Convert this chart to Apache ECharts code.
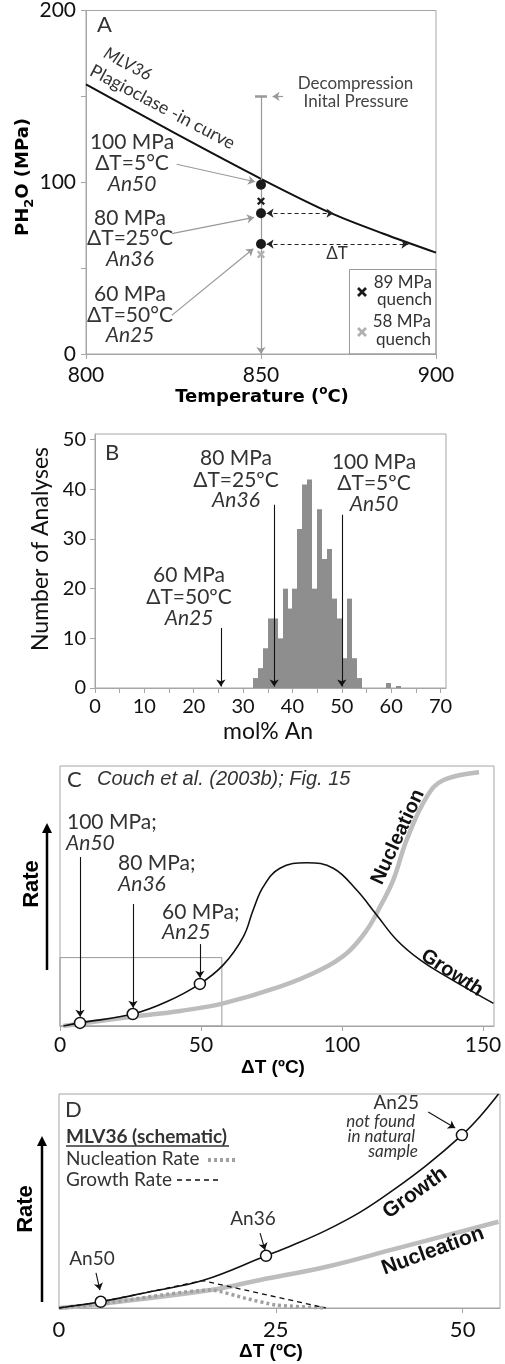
<!DOCTYPE html>
<html><head><meta charset="utf-8">
<script src="https://cdn.jsdelivr.net/npm/echarts@6/dist/echarts.min.js"></script>
<style>html,body{margin:0;padding:0;background:#fff}#c{width:505px;height:1364px}</style>
</head><body><div id="c"></div>
<script>
// ---- Panel A data ----
const aCurveT = [800, 825, 850, 870, 885, 900];
const aCurveP = [157, 129, 102, 82, 70, 59];
const aRunT = [850, 850, 850];
const aRunP = [98.5, 82, 64];
const aQuench89 = [[850, 89]];
const aQuench58 = [[850, 58]];
const aXTicks = [800, 850, 900];
const aYLabels = [0, 100, 200];
// ---- Panel B data ----
const bBinStart = [32,33,34,35,36,37,38,39,40,41,42,43,44,45,46,47,48,49,50,51,52,53,59,61];
const bCounts   = [2, 4, 8, 14,14,10,20,16,20,32,41,42,20,36,26,28,18,14,6, 18,6, 2, 1, 0.4];
const bArrowsAn = [25.5, 36.3, 50];
const bArrowTop = [12.1, 36.9, 34.9];
const bXLabels = [0,10,20,30,40,50,60,70];
const bXTicks = [0,5,10,15,20,25,30,35,40,45,50,55,60,65,70];
const bYLabels = [0,10,20,30,40,50];
// ---- Panel C data ----
const cGrowthX = [1.2, 7.1, 25.8, 37.8, 49.6, 57.9, 65, 68.5, 72.1, 78, 87.5, 96.9, 105.2, 112.3, 119.4, 127.7, 137.1, 153.7];
const cGrowthY = [0, 1.2, 4.6, 9.3, 16.2, 23.5, 34.3, 44.6, 53.6, 60.7, 62.8, 60.7, 52.3, 42.7, 33.1, 25.4, 19, 8.7];
const cNuclX = [1.1, 26, 42.6, 57.9, 78, 92.2, 101.7, 108.8, 113.5, 118.2, 122.9, 130.1, 136, 148.6];
const cNuclY = [0, 3.6, 5.8, 8.7, 15.1, 21.5, 28, 36.9, 45.9, 56.2, 71.5, 88.2, 94.6, 97.6];
const cRuns = [[7.1, 1.2], [25.8, 4.6], [49.6, 16.2]];
const cXLabels = [0, 50, 100, 150];
// ---- Panel D data ----
const dGrowthX = [-4, 1.58, 8.17, 15.2, 23.7, 27.3, 31.8, 36.3, 40.7, 45.2, 49.9, 52.3, 54.8];
const dGrowthY = [0, 2.9, 7.6, 12.8, 24.4, 29.4, 36.4, 44.8, 55.1, 66.8, 80.8, 89.4, 100];
const dNuclX = [-4, 1.5, 16.3, 22.9, 31.8, 40.7, 54.8];
const dNuclY = [0, 1.9, 8.4, 13.1, 19.3, 27.4, 40.3];
const dGrRateX = [-4, 1.58, 8.17, 15.2, 31.7];
const dGrRateY = [0, 2.9, 7.6, 12.8, 0];
const dNuRateX = [-4, 1.5, 16.3, 21, 25, 31.7];
const dNuRateY = [0, 1.9, 8.4, 4.5, 1.4, 0];
const dRuns = [[1.58, 2.9], [23.7, 24.4], [49.9, 80.8]];
const dXLabels = [-4, 25, 50];

const zip = (a, b) => a.map((v, i) => [v, b[i]]);
const FR = '#a6a6a6';
const TXT = '#333';
const XPATH = 'path://M0,2L2,0L5,3L8,0L10,2L7,5L10,8L8,10L5,7L2,10L0,8L3,5Z';

function txt(x, y, text, o) {
  o = o || {};
  const font = (o.style || 'normal') + ' ' + (o.weight || 'normal') + ' ' + (o.size || 21) + 'px ' + (o.family || 'Lato');
  const st = { text: text, font: font, fill: o.color || TXT,
      align: o.align || 'center', verticalAlign: o.va || 'middle',
      textAlign: o.align || 'center', textVerticalAlign: o.va || 'middle' };
  if (o.rich) st.rich = o.rich;
  return { type: 'text', x: x, y: y, rotation: o.rot || 0, z: 100, style: st };
}
function gline(x1, y1, x2, y2, o) {
  o = o || {};
  return { type: 'line', z: 100, shape: { x1: x1, y1: y1, x2: x2, y2: y2 },
    style: { stroke: o.color || '#000', lineWidth: o.w || 1, lineDash: o.dash || null } };
}
function upArrow(x, y1, y2) {
  return [gline(x, y1, x, y2 + 6, { w: 2.5 }),
    { type: 'polygon', z: 100, shape: { points: [[x - 5, y2 + 10], [x + 5, y2 + 10], [x, y2]] }, style: { fill: '#000' } }];
}
function xMark(cx, cy, color) {
  return [gline(cx - 4, cy - 4, cx + 4, cy + 4, { w: 2.6, color: color }),
          gline(cx - 4, cy + 4, cx + 4, cy - 4, { w: 2.6, color: color })];
}
function seg(p1, p2, s1, s2) {
  return [{ coord: p1, symbol: s1 || 'none' }, { coord: p2, symbol: s2 || 'arrow' }];
}

const axisBase = (gi) => ({
  gridIndex: gi, type: 'value', splitLine: { show: false },
  axisLine: { show: true, lineStyle: { color: FR, width: 1 } },
  axisTick: { show: true, length: 5, lineStyle: { color: FR } },
  axisLabel: { fontFamily: 'Lato', fontSize: 21, color: '#111' }
});

const option = {
  animation: false,
  backgroundColor: '#fff',
  grid: [
    { left: 86, top: 7, width: 350, height: 347, show: true, borderColor: FR, borderWidth: 1 },
    { left: 95, top: 434, width: 351, height: 254, show: true, borderColor: FR, borderWidth: 1 },
    { left: 60, top: 766, width: 434, height: 260, show: true, borderColor: FR, borderWidth: 1 },
    { left: 59, top: 1094, width: 441, height: 214, show: true, borderColor: FR, borderWidth: 1 }
  ],
  xAxis: [
    Object.assign(axisBase(0), { min: 800, max: 900, interval: 50,
      axisLabel: { fontFamily: 'Lato', fontSize: 21, color: '#111', margin: 11 } }),
    Object.assign(axisBase(1), { min: 0, max: 71.1,
      axisTick: { show: true, length: 5, lineStyle: { color: FR }, customValues: bXTicks },
      axisLabel: { fontFamily: 'Lato', fontSize: 20, color: '#111', margin: 9, customValues: bXLabels } }),
    Object.assign(axisBase(2), { min: 0, max: 153.9,
      axisTick: { show: true, length: 5, lineStyle: { color: FR }, customValues: cXLabels },
      axisLabel: { fontFamily: 'Lato', fontSize: 21, color: '#111', margin: 9, customValues: cXLabels } }),
    Object.assign(axisBase(3), { min: -4, max: 55,
      axisTick: { show: true, length: 5, lineStyle: { color: FR }, customValues: [25, 50] },
      axisLabel: { fontFamily: 'Lato', fontSize: 22, color: '#111', margin: 11, customValues: dXLabels,
        formatter: function (v) { return v < 0 ? '0' : String(v); } } })
  ],
  yAxis: [
    Object.assign(axisBase(0), { min: 0, max: 200, interval: 50,
      axisLabel: { fontFamily: 'Lato', fontSize: 21, color: '#111', margin: 10,
        formatter: function (v) { return aYLabels.indexOf(v) >= 0 ? String(v) : ''; } } }),
    Object.assign(axisBase(1), { min: 0, max: 51.15,
      axisTick: { show: true, length: 5, lineStyle: { color: FR }, customValues: bYLabels },
      axisLabel: { fontFamily: 'Lato', fontSize: 20, color: '#111', margin: 9, customValues: bYLabels } }),
    Object.assign(axisBase(2), { min: 0, max: 100, show: false }),
    Object.assign(axisBase(3), { min: 0, max: 100, show: false })
  ],
  series: [
    // ---------- A ----------
    { type: 'line', xAxisIndex: 0, yAxisIndex: 0, data: zip(aCurveT, aCurveP), smooth: 0.3,
      showSymbol: false, lineStyle: { color: '#111', width: 2 } },
    { type: 'line', xAxisIndex: 0, yAxisIndex: 0, data: [],
      markLine: { silent: true, symbolSize: 7, label: { show: false },
        lineStyle: { color: '#999', width: 1.2, type: 'solid' },
        data: [
          seg([850, 150], [850, 0]),
          [{ coord: [848.3, 150], symbol: 'none', lineStyle: { width: 2.5, color: '#999', type: 'solid' } },
           { coord: [851.7, 150], symbol: 'none', lineStyle: { width: 2.5, color: '#999', type: 'solid' } }],
          seg([856.3, 150], [853.3, 150]),
          seg([825.9, 110.5], [848.3, 100.3]),
          seg([824.5, 70.1], [848, 79.5]),
          seg([824.5, 22.5], [847.8, 61.3])
        ] } },
    { type: 'line', xAxisIndex: 0, yAxisIndex: 0, data: [],
      markLine: { silent: true, symbolSize: 7, label: { show: false },
        lineStyle: { color: '#222', width: 1.2, type: [4, 3] },
        data: [ seg([851.6, 82], [870.7, 82], 'arrow', 'arrow'),
                seg([851.6, 64], [892.1, 64], 'arrow', 'arrow') ] } },
    { type: 'scatter', xAxisIndex: 0, yAxisIndex: 0, data: zip(aRunT, aRunP), symbol: 'circle',
      symbolSize: 10, itemStyle: { color: '#1a1a1a', opacity: 1 }, z: 5 },
    { type: 'scatter', xAxisIndex: 0, yAxisIndex: 0, data: aQuench89, symbol: XPATH,
      symbolSize: 8, itemStyle: { color: '#1a1a1a', opacity: 1 }, z: 5 },
    { type: 'scatter', xAxisIndex: 0, yAxisIndex: 0, data: aQuench58, symbol: XPATH,
      symbolSize: 8, itemStyle: { color: '#b0b0b0', opacity: 1 }, z: 5 },
    // ---------- B ----------
    { type: 'custom', xAxisIndex: 1, yAxisIndex: 1, data: zip(bBinStart, bCounts),
      encode: { x: 0, y: 1 },
      renderItem: function (params, api) {
        const x0 = api.value(0), h = api.value(1);
        const p0 = api.coord([x0, 0]), p1 = api.coord([x0 + 1, h]);
        const xl = Math.round(p0[0]), xr = Math.round(p1[0]);
        return { type: 'rect', shape: { x: xl, y: p1[1], width: xr - xl, height: p0[1] - p1[1] },
          style: { fill: '#8e8e8e', opacity: 1 } };
      } },
    { type: 'line', xAxisIndex: 1, yAxisIndex: 1, data: [],
      markLine: { silent: true, symbolSize: 7, label: { show: false },
        lineStyle: { color: '#111', width: 1.1, type: 'solid' },
        data: bArrowsAn.map((a, i) => seg([a, bArrowTop[i]], [a, 0.3])) } },
    // ---------- C ----------
    { type: 'line', xAxisIndex: 2, yAxisIndex: 2, data: [],
      markArea: { silent: true, itemStyle: { color: 'rgba(0,0,0,0)', borderColor: '#999', borderWidth: 1 },
        data: [[{ coord: [0, 0] }, { coord: [57.4, 26.3] }]] } },
    { type: 'line', xAxisIndex: 2, yAxisIndex: 2, data: zip(cNuclX, cNuclY), smooth: 0.4,
      showSymbol: false, lineStyle: { color: '#bdbdbd', width: 4.5 } },
    { type: 'line', xAxisIndex: 2, yAxisIndex: 2, data: zip(cGrowthX, cGrowthY), smooth: 0.4,
      showSymbol: false, lineStyle: { color: '#111', width: 1.6 } },
    { type: 'line', xAxisIndex: 2, yAxisIndex: 2, data: [],
      markLine: { silent: true, symbolSize: 7, label: { show: false },
        lineStyle: { color: '#111', width: 1.1, type: 'solid' },
        data: [ seg([7.1, 65], [7.1, 3.6]), seg([25.9, 46.9], [25.9, 7]), seg([49.6, 31.5], [49.6, 18.6]) ] } },
    { type: 'scatter', xAxisIndex: 2, yAxisIndex: 2, data: cRuns, symbol: 'circle', symbolSize: 11,
      itemStyle: { color: '#fff', borderColor: '#111', borderWidth: 1.5, opacity: 1 }, z: 5 },
    // ---------- D ----------
    { type: 'line', xAxisIndex: 3, yAxisIndex: 3, data: zip(dNuclX, dNuclY), smooth: 0.4,
      showSymbol: false, lineStyle: { color: '#bdbdbd', width: 4.5 } },
    { type: 'line', xAxisIndex: 3, yAxisIndex: 3, data: zip(dNuRateX, dNuRateY), smooth: 0.2,
      showSymbol: false, lineStyle: { color: '#a0a0a0', width: 3.5, type: [3, 3] } },
    { type: 'line', xAxisIndex: 3, yAxisIndex: 3, data: zip(dGrRateX, dGrRateY),
      showSymbol: false, lineStyle: { color: '#111', width: 1.3, type: [5, 4] } },
    { type: 'line', xAxisIndex: 3, yAxisIndex: 3, data: zip(dGrowthX, dGrowthY), smooth: 0.4,
      showSymbol: false, lineStyle: { color: '#111', width: 1.6 } },
    { type: 'line', xAxisIndex: 3, yAxisIndex: 3, data: [],
      markLine: { silent: true, symbolSize: 7, label: { show: false },
        lineStyle: { color: '#111', width: 1.1, type: 'solid' },
        data: [ seg([0.95, 16.4], [1.48, 8.4]), seg([22.9, 35], [23.56, 27.1]), seg([45.4, 91.6], [49, 84.1]) ] } },
    { type: 'scatter', xAxisIndex: 3, yAxisIndex: 3, data: dRuns, symbol: 'circle', symbolSize: 11,
      itemStyle: { color: '#fff', borderColor: '#111', borderWidth: 1.5, opacity: 1 }, z: 5 }
  ],
  graphic: [].concat(
    // ----- A texts -----
    [ txt(97, 25, 'A', { align: 'left', size: 22 }),
      txt(127.5, 64, 'MLV36', { style: 'italic', size: 17, rot: -0.49 }),
      txt(162.5, 107, 'Plagioclase -in curve', { size: 18, rot: -0.485 }),
      txt(355.5, 84, 'Decompression', { size: 17, color: '#444' }),
      txt(356, 101.5, 'Inital Pressure', { size: 17, color: '#444' }),
      txt(132, 142, '100 MPa'), txt(132, 163, 'ΔT=5°C'), txt(132, 184, 'An50', { style: 'italic' }),
      txt(130, 218, '80 MPa'), txt(130, 238, 'ΔT=25°C'), txt(130, 259, 'An36', { style: 'italic' }),
      txt(130, 294, '60 MPa'), txt(130, 315, 'ΔT=50°C'), txt(130, 335, 'An25', { style: 'italic' }),
      txt(337, 254, 'ΔT', { size: 17 }),
      { type: 'rect', z: 100, shape: { x: 349.5, y: 269.5, width: 86.5, height: 84.5 }, style: { fill: null, stroke: '#999', lineWidth: 1 } },
      txt(432, 283, '89 MPa', { align: 'right', size: 17 }), txt(432, 300, 'quench', { align: 'right', size: 17 }),
      txt(431, 322, '58 MPa', { align: 'right', size: 17 }), txt(431, 340, 'quench', { align: 'right', size: 17 }),
      txt(23, 177, '{a|PH}{s|2}{a|O (MPa)}', { family: 'DejaVu Sans', weight: 'bold', size: 18, color: '#000', rot: Math.PI / 2,
        rich: { a: { fontFamily: 'DejaVu Sans', fontWeight: 'bold', fontSize: 18, lineHeight: 26, verticalAlign: 'middle', fill: '#000' },
                s: { fontFamily: 'DejaVu Sans', fontWeight: 'bold', fontSize: 13, lineHeight: 12, verticalAlign: 'bottom', fill: '#000' } } }),
      txt(262, 397, '{a|Temperature (}{s|o}{a|C)}', { family: 'DejaVu Sans', weight: 'bold', size: 18, color: '#000',
        rich: { a: { fontFamily: 'DejaVu Sans', fontWeight: 'bold', fontSize: 18, lineHeight: 24, verticalAlign: 'middle', fill: '#000' },
                s: { fontFamily: 'DejaVu Sans', fontWeight: 'bold', fontSize: 12, lineHeight: 12, verticalAlign: 'top', fill: '#000' } } })
    ],
    xMark(362, 292, '#1a1a1a'), xMark(362, 332, '#b0b0b0'),
    // ----- B texts -----
    [ txt(105, 453, 'B', { align: 'left', size: 22 }),
      txt(236, 458, '80 MPa'), txt(236, 480, 'ΔT=25ºC'), txt(236, 500, 'An36', { style: 'italic' }),
      txt(374, 462, '100 MPa'), txt(374, 483, 'ΔT=5ºC'), txt(374, 504, 'An50', { style: 'italic' }),
      txt(189, 575, '60 MPa'), txt(189, 597, 'ΔT=50ºC'), txt(189, 618, 'An25', { style: 'italic' }),
      txt(41, 549, 'Number of Analyses', { size: 23, color: '#111', rot: Math.PI / 2 }),
      txt(268, 732, 'mol% An', { size: 23, color: '#111' })
    ],
    // ----- C texts -----
    [ txt(67, 780, 'C', { align: 'left', size: 22 }),
      txt(97, 779, 'Couch et al. (2003b); Fig. 15', { align: 'left', style: 'italic', size: 20, family: 'Liberation Sans' }),
      txt(67, 822, '100 MPa;', { align: 'left' }), txt(66, 843, 'An50', { align: 'left', style: 'italic' }),
      txt(118, 863, '80 MPa;', { align: 'left' }), txt(118, 884, 'An36', { align: 'left', style: 'italic' }),
      txt(162, 912, '60 MPa;', { align: 'left' }), txt(162, 932, 'An25', { align: 'left', style: 'italic' }),
      txt(398, 837, 'Nucleation', { family: 'Liberation Sans', weight: 'bold', size: 20, color: '#111', rot: 1.14 }),
      txt(452, 973, 'Growth', { family: 'Liberation Sans', weight: 'bold', size: 20, color: '#111', rot: -0.58 }),
      txt(32, 884, 'Rate', { family: 'Liberation Sans', weight: 'bold', size: 22, color: '#000', rot: Math.PI / 2 }),
      txt(273, 1068, 'ΔT (ºC)', { family: 'Liberation Sans', weight: 'bold', size: 19, color: '#000' })
    ],
    upArrow(47, 970, 823),
    // ----- D texts -----
    [ txt(65, 1110, 'D', { align: 'left', size: 22 }),
      txt(66, 1137, 'MLV36 (schematic)', { align: 'left', weight: 'bold', size: 19 }),
      gline(66, 1146, 229, 1146, { w: 1.3, color: TXT }),
      txt(66, 1159, 'Nucleation Rate', { align: 'left', size: 19 }),
      gline(208, 1160, 238, 1160, { w: 4, color: '#a0a0a0', dash: [3, 3] }),
      txt(66, 1180, 'Growth Rate', { align: 'left', size: 19 }),
      gline(177, 1180, 221, 1180, { w: 1.3, color: '#111', dash: [5, 4] }),
      txt(419, 1103, 'An25', { align: 'right', size: 19 }),
      txt(415, 1122, 'not found', { align: 'right', style: 'italic', size: 17 }),
      txt(415, 1137, 'in natural', { align: 'right', style: 'italic', size: 17 }),
      txt(418, 1152, 'sample', { align: 'right', style: 'italic', size: 17 }),
      txt(253, 1219, 'An36', { size: 19 }),
      txt(92, 1259, 'An50', { size: 19 }),
      txt(415, 1193, 'Growth', { family: 'Liberation Sans', weight: 'bold', size: 21, color: '#111', rot: 0.62 }),
      txt(433, 1251, 'Nucleation', { family: 'Liberation Sans', weight: 'bold', size: 21, color: '#111', rot: 0.35 }),
      txt(26, 1209, 'Rate', { family: 'Liberation Sans', weight: 'bold', size: 22, color: '#000', rot: Math.PI / 2 }),
      txt(271, 1352, 'ΔT (ºC)', { family: 'Liberation Sans', weight: 'bold', size: 19, color: '#000' })
    ],
    upArrow(42, 1302, 1136)
  )
};
const chart = echarts.init(document.getElementById('c'), null, { renderer: 'canvas' });
chart.setOption(option);
</script></body></html>
